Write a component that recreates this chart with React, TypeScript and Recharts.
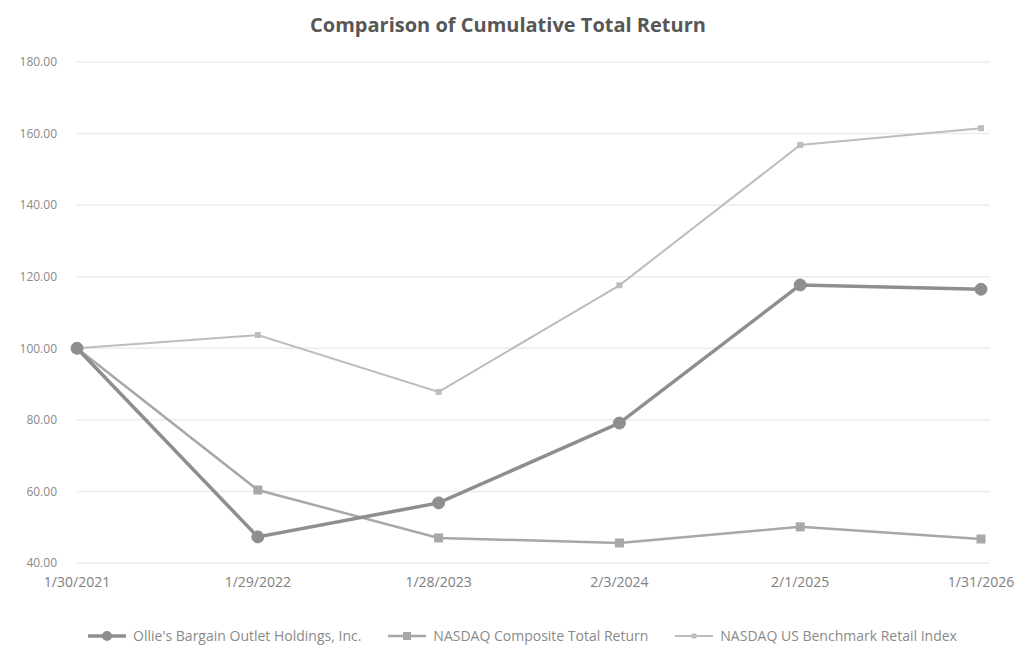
import React from 'react';
import { LineChart, Line, XAxis, YAxis, CartesianGrid, Legend } from 'recharts';

const categories = ['1/30/2021', '1/29/2022', '1/28/2023', '2/3/2024', '2/1/2025', '1/31/2026'];
const olliesValues = [100, 47.3, 56.8, 79.1, 117.7, 116.5];
const compositeValues = [100, 60.4, 47.0, 45.6, 50.1, 46.7];
const retailValues = [100, 103.7, 87.8, 117.6, 156.8, 161.5];
const yTicks = [40, 60, 80, 100, 120, 140, 160, 180];

const seriesNames = [
  "Ollie's Bargain Outlet Holdings, Inc.",
  'NASDAQ Composite Total Return',
  'NASDAQ US Benchmark Retail Index',
];

const data = categories.map((c, i) => ({
  date: c,
  ollies: olliesValues[i],
  composite: compositeValues[i],
  retail: retailValues[i],
}));

const C_OLLIES = '#8e8e8e';
const C_COMP = '#a8a8a8';
const C_RETAIL = '#bdbdbd';
const FONT = '"Open Sans", "DejaVu Sans", sans-serif';

const CircleDot = (props: any) => {
  const { cx, cy } = props;
  if (cx == null || cy == null) return null;
  return <circle cx={cx} cy={cy} r={6} fill={C_OLLIES} stroke={C_OLLIES} />;
};
const SquareDot = (props: any) => {
  const { cx, cy } = props;
  if (cx == null || cy == null) return null;
  return <rect x={cx - 4.5} y={cy - 4.5} width={9} height={9} fill={C_COMP} />;
};
const SmallDot = (props: any) => {
  const { cx, cy } = props;
  if (cx == null || cy == null) return null;
  return <rect x={cx - 3} y={cy - 3} width={6} height={6} fill={C_RETAIL} />;
};

const LegendContent = () => {
  const items = [
    { name: seriesNames[0], color: C_OLLIES, w: 3.5, marker: 'circle' },
    { name: seriesNames[1], color: C_COMP, w: 2.5, marker: 'square' },
    { name: seriesNames[2], color: C_RETAIL, w: 2, marker: 'small' },
  ];
  return (
    <div
      style={{
        display: 'flex',
        justifyContent: 'center',
        gap: 27,
        paddingLeft: 28,
        fontFamily: FONT,
        fontSize: 14,
        color: '#8a8a8a',
      }}
    >
      {items.map((it) => (
        <div key={it.name} style={{ display: 'flex', alignItems: 'center' }}>
          <svg width={38} height={12} style={{ marginRight: 7 }}>
            <line x1={0} y1={6} x2={38} y2={6} stroke={it.color} strokeWidth={it.w} />
            {it.marker === 'circle' && <circle cx={19} cy={6} r={5} fill={it.color} />}
            {it.marker === 'square' && <rect x={15} y={2} width={8} height={8} fill={it.color} />}
            {it.marker === 'small' && <rect x={16.5} y={3.5} width={5} height={5} fill={it.color} />}
          </svg>
          <span>{it.name}</span>
        </div>
      ))}
    </div>
  );
};

export default function App() {
  return (
    <div style={{ position: 'absolute', left: 0, top: 0, width: 1016, height: 645, background: '#fff' }}>
      <div
        style={{
          position: 'absolute',
          top: 11,
          left: 0,
          width: 1016,
          textAlign: 'center',
          fontFamily: FONT,
          fontWeight: 700,
          fontSize: 20,
          color: '#575757',
          zIndex: 1,
        }}
      >
        Comparison of Cumulative Total Return
      </div>
      <LineChart
        width={1016}
        height={645}
        data={data}
        margin={{ top: 62, right: 26, bottom: 26, left: 27 }}
      >
        <CartesianGrid vertical={false} stroke="#ececec" strokeWidth={1.5} />
        <XAxis
          dataKey="date"
          padding={{ left: 0, right: 9 }}
          axisLine={false}
          tickLine={false}
          tickSize={0}
          tickMargin={14}
          height={30}
          interval={0}
          tick={{ fill: '#7e7e7e', fontSize: 14, fontFamily: FONT }}
        />
        <YAxis
          domain={[40, 180]}
          ticks={yTicks}
          width={50}
          axisLine={false}
          tickLine={false}
          tickSize={0}
          tickMargin={20}
          tickFormatter={(v: number) => v.toFixed(2)}
          tick={{ fill: '#8a8a8a', fontSize: 12, fontFamily: FONT }}
        />
        <Legend verticalAlign="bottom" content={<LegendContent />} wrapperStyle={{ bottom: -7, height: 26 }} />
        <Line
          type="linear"
          dataKey="retail"
          name={seriesNames[2]}
          stroke={C_RETAIL}
          strokeWidth={2}
          dot={<SmallDot />}
          activeDot={false}
          isAnimationActive={false}
        />
        <Line
          type="linear"
          dataKey="composite"
          name={seriesNames[1]}
          stroke={C_COMP}
          strokeWidth={2.5}
          dot={<SquareDot />}
          activeDot={false}
          isAnimationActive={false}
        />
        <Line
          type="linear"
          dataKey="ollies"
          name={seriesNames[0]}
          stroke={C_OLLIES}
          strokeWidth={3.5}
          dot={<CircleDot />}
          activeDot={false}
          isAnimationActive={false}
        />
      </LineChart>
    </div>
  );
}
